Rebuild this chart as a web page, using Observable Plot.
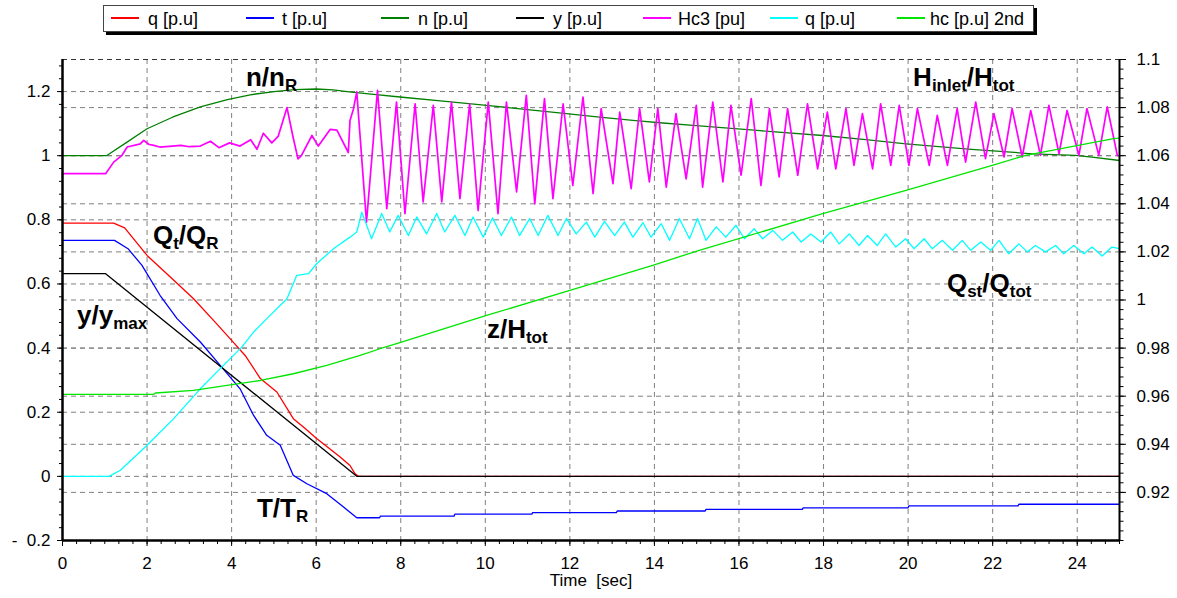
<!DOCTYPE html>
<html><head><meta charset="utf-8">
<script src="https://cdn.jsdelivr.net/npm/d3@7"></script>
<script src="https://cdn.jsdelivr.net/npm/@observablehq/plot@0.6"></script>
<style>
body{margin:0;background:#fff;font-family:"Liberation Sans",Arial,sans-serif;}
#wrap{position:relative;width:1177px;height:598px;overflow:hidden;}
#legend{position:absolute;left:103px;top:5px;width:929px;height:25px;border:1px solid #444;box-shadow:3px 3px 0 #000;background:#fff;}
.li{position:absolute;top:1px;height:25px;font-size:18px;line-height:25px;white-space:pre;color:#000;}
.sw{position:absolute;top:11px;height:1.6px;width:28px;}
#chart{position:absolute;left:0;top:40px;}
#chart svg text{white-space:pre;}
</style></head><body>
<div id="wrap"><div id="legend"></div><div id="chart"></div></div>
<script>
// ---------- data (time [s], value in left-axis units) ----------
const seriesNames  = ["q [p.u]","t [p.u]","n [p.u]","y [p.u]","Hc3 [pu]","q [p.u]","hc [p.u] 2nd"];
const seriesColors = ["#ff0000","#0000ff","#008000","#000000","#ff00ff","#00ffff","#00e600"];

const qTurbine = [[0,0.79],[1.21,0.79],[1.47,0.775],[2.0,0.689],[2.55,0.622],[3.1,0.554],[3.61,0.481],[4.0,0.424],[4.32,0.377],[4.68,0.305],[5.07,0.263],[5.46,0.18],[5.74,0.149],[6.01,0.118],[6.56,0.061],[6.8,0.034],[6.92,0.008],[7.0,0],[25,0]];
const tTorque = [[0,0.736],[1.23,0.736],[1.55,0.71],[1.88,0.658],[2.31,0.564],[2.71,0.492],[3.26,0.419],[3.73,0.346],[4.2,0.273],[4.52,0.19],[4.83,0.128],[5.15,0.097],[5.46,0.003],[5.78,-0.023],[6.25,-0.054],[6.64,-0.095],[6.96,-0.129],[7.5,-0.129],[7.52,-0.124],[9.26,-0.124],[9.28,-0.118],[11.1,-0.118],[11.12,-0.113],[13.1,-0.113],[13.12,-0.108],[15.2,-0.108],[15.22,-0.103],[17.5,-0.103],[17.52,-0.098],[20.0,-0.098],[20.02,-0.092],[22.6,-0.092],[22.62,-0.087],[25,-0.087]];
const nSpeed = [[0,1.0],[1.04,1.0],[1.5,1.04],[2.0,1.084],[2.6,1.12],[3.26,1.152],[3.9,1.175],[4.44,1.19],[5.0,1.2],[5.5,1.206],[6.0,1.208],[6.4,1.205],[6.73,1.2],[7.3,1.192],[7.98,1.183],[9.0,1.17],[10.03,1.157],[11.0,1.144],[11.92,1.131],[12.7,1.12],[13.49,1.11],[14.2,1.102],[14.99,1.094],[16.5,1.078],[17.98,1.063],[19.0,1.05],[19.95,1.037],[21.5,1.02],[22.94,1.006],[23.96,1.001],[24.4,0.995],[25,0.985]];
const yGate = [[0,0.632],[1.02,0.632],[6.96,0],[25,0]];
const hc3Inlet = [[0,0.944],[1.02,0.944],[1.21,0.98],[1.4,1.0],[1.53,1.027],[1.84,1.037],[1.92,1.048],[2.05,1.035],[2.16,1.032],[2.3,1.027],[2.6,1.03],[2.8,1.032],[3.0,1.028],[3.26,1.03],[3.5,1.045],[3.7,1.025],[3.95,1.04],[4.2,1.03],[4.45,1.05],[4.6,1.02],[4.75,1.07],[4.95,1.04],[5.1,1.06],[5.31,1.15],[5.45,1.06],[5.57,0.99],[5.65,1.0],[5.9,1.063],[6.05,1.03],[6.33,1.082],[6.49,1.08],[6.76,1.01],[6.8,1.11],[6.88,1.145],[6.96,1.199],[7.19,0.793],[7.45,1.204],[7.67,0.835],[7.9,1.167],[8.1,0.819],[8.34,1.162],[8.53,0.856],[8.77,1.157],[8.97,0.856],[9.2,1.167],[9.4,0.866],[9.63,1.162],[9.83,0.829],[10.07,1.167],[10.3,0.819],[10.5,1.167],[10.74,0.887],[10.97,1.188],[11.17,0.85],[11.4,1.178],[11.6,0.866],[11.84,1.162],[12.07,0.907],[12.31,1.183],[12.55,0.882],[12.74,1.147],[13.02,0.913],[13.18,1.136],[13.45,0.897],[13.65,1.147],[13.88,0.918],[14.08,1.147],[14.28,0.902],[14.51,1.131],[14.75,0.928],[14.99,1.157],[15.14,0.902],[15.38,1.167],[15.62,0.918],[15.81,1.157],[16.05,0.939],[16.29,1.178],[16.52,0.907],[16.72,1.147],[16.95,0.934],[17.15,1.147],[17.39,0.939],[17.62,1.162],[17.86,0.959],[18.09,1.136],[18.29,0.959],[18.53,1.147],[18.72,0.97],[18.92,1.131],[19.16,0.959],[19.35,1.162],[19.59,0.97],[19.79,1.157],[20.02,0.97],[20.22,1.147],[20.5,0.97],[20.69,1.126],[20.93,0.97],[21.16,1.147],[21.36,0.98],[21.6,1.167],[21.83,0.991],[22.03,1.131],[22.27,0.996],[22.46,1.147],[22.7,0.996],[22.9,1.141],[23.13,1.001],[23.33,1.157],[23.57,1.006],[23.76,1.141],[24.04,1.001],[24.23,1.147],[24.51,1.001],[24.71,1.152],[24.95,1.0]];
const qSpiral = [[0,0],[1.1,0],[1.37,0.019],[2.0,0.097],[2.63,0.18],[3.26,0.273],[3.73,0.336],[4.24,0.403],[4.52,0.45],[4.91,0.502],[5.31,0.554],[5.54,0.627],[5.82,0.632],[6.01,0.663],[6.41,0.71],[6.8,0.746],[6.96,0.762],[7.08,0.824],[7.31,0.741],[7.55,0.82],[7.74,0.762],[7.94,0.814],[8.18,0.751],[8.38,0.809],[8.61,0.756],[8.85,0.82],[9.04,0.762],[9.28,0.814],[9.52,0.751],[9.71,0.809],[9.95,0.746],[10.17,0.806],[10.38,0.751],[10.62,0.809],[10.81,0.751],[11.05,0.804],[11.25,0.751],[11.48,0.814],[11.72,0.751],[11.92,0.804],[12.15,0.756],[12.39,0.793],[12.59,0.746],[12.82,0.795],[13.06,0.751],[13.29,0.793],[13.49,0.746],[13.73,0.791],[13.92,0.746],[14.16,0.788],[14.36,0.736],[14.59,0.804],[14.83,0.741],[15.02,0.804],[15.22,0.736],[15.46,0.778],[15.69,0.746],[15.93,0.783],[16.13,0.741],[16.36,0.772],[16.56,0.741],[16.8,0.767],[17.03,0.736],[17.27,0.762],[17.47,0.731],[17.7,0.756],[17.94,0.731],[18.17,0.762],[18.37,0.725],[18.61,0.756],[18.84,0.72],[19.04,0.751],[19.27,0.72],[19.47,0.756],[19.71,0.715],[19.94,0.741],[20.14,0.71],[20.38,0.741],[20.57,0.71],[20.81,0.736],[21.05,0.705],[21.28,0.736],[21.48,0.705],[21.72,0.731],[21.95,0.705],[22.15,0.736],[22.38,0.694],[22.62,0.725],[22.82,0.7],[23.01,0.72],[23.25,0.7],[23.49,0.72],[23.68,0.694],[23.92,0.72],[24.16,0.694],[24.35,0.715],[24.59,0.687],[24.82,0.715],[25,0.71]];
const hcLevel = [[0,0.256],[2.16,0.256],[2.2,0.26],[3.1,0.268],[3.89,0.284],[4.68,0.299],[5.46,0.32],[6.25,0.346],[7.04,0.377],[7.51,0.398],[7.98,0.417],[10.03,0.502],[12.0,0.58],[13.96,0.658],[15.06,0.705],[17.98,0.819],[19.95,0.892],[21.99,0.97],[22.78,1.001],[24.86,1.053],[25,1.055]];
const allSeries = [qTurbine, tTorque, nSpeed, yGate, hc3Inlet, qSpiral, hcLevel];

const xTicks = [0,2,4,6,8,10,12,14,16,18,20,22,24];
const leftTicks  = [-0.2,0,0.2,0.4,0.6,0.8,1,1.2];
const leftLabels = ["-  0.2","0","0.2","0.4","0.6","0.8","1","1.2"];
const rightTicks  = [0.92,0.94,0.96,0.98,1,1.02,1.04,1.06,1.08,1.1];
const rightLabels = ["0.92","0.94","0.96","0.98","1","1.02","1.04","1.06","1.08","1.1"];
const xLabel = "Time  [sec]";

// annotations: text parts [string, isSubscript], anchored at (t, value) = left end of baseline
const annotations = [
  {t:4.35,  v:1.216, parts:[["n/n",0],["R",1]]},
  {t:20.13, v:1.216, parts:[["H",0],["inlet",1],["/H",0],["tot",1]]},
  {t:2.15,  v:0.723, parts:[["Q",0],["t",1],["/Q",0],["R",1]]},
  {t:0.355, v:0.474, parts:[["y/y",0],["max",1]]},
  {t:10.05, v:0.43,  parts:[["z/H",0],["tot",1]]},
  {t:20.93, v:0.574, parts:[["Q",0],["st",1],["/Q",0],["tot",1]]},
  {t:4.61,  v:-0.128,parts:[["T/T",0],["R",1]]}
];

// ---------- helpers ----------
const toLeft = r => -0.2 + (r - 0.9) / 0.2 * 1.5;
const near = (a, b) => Math.abs(a - b) < 1e-6;
const fmtLeft = d => { const i = leftTicks.findIndex(v => near(v, d)); return i >= 0 ? leftLabels[i] : ""; };
const fmtRight = d => { const i = rightTicks.findIndex(v => near(toLeft(v), d)); return i >= 0 ? rightLabels[i] : ""; };
const xMinor = d3.range(0, 76).map(i => i / 3).filter(v => v <= 25);
const leftMinor = d3.range(0, 38).map(i => -0.2 + i * 0.04);
const rightMinor = d3.range(0, 51).map(i => toLeft(0.9 + i * 0.004));
const gridY = [0,0.2,0.4,0.6,0.8,1,1.2].concat([0.92,0.94,0.96,0.98,1,1.02,1.04,1.06,1.08].map(toLeft));

// ---------- legend ----------
const legendLine = [111,246,381,516,643,770,897];
const legendText = [148,282,418,553,678,805,930];
const leg = document.getElementById("legend");
seriesNames.forEach((name, i) => {
  const sw = document.createElement("div");
  sw.className = "sw"; sw.style.left = (legendLine[i] - 104) + "px"; sw.style.background = seriesColors[i];
  leg.appendChild(sw);
  const tx = document.createElement("div");
  tx.className = "li"; tx.style.left = (legendText[i] - 104) + "px"; tx.textContent = name;
  leg.appendChild(tx);
});

// ---------- plot ----------
const grid = {stroke:"#808080", strokeDasharray:"5,4", strokeWidth:1};
const plot = Plot.plot({
  width: 1177, height: 558,
  marginLeft: 62, marginRight: 58, marginTop: 19, marginBottom: 58,
  x: {domain:[0,25], axis:null},
  y: {domain:[-0.2,1.3], axis:null},
  style: {fontFamily:'"Liberation Sans", Arial, sans-serif', fontSize:"17px", color:"#000", background:"#fff", overflow:"visible"},
  marks: [
    Plot.ruleX(xTicks.slice(1), grid),
    Plot.ruleY(gridY, grid),
    Plot.ruleY([1.3], {stroke:"#333", strokeDasharray:"5,4"}),
    ...allSeries.map((s, i) => Plot.line(s, {x: d => d[0], y: d => d[1], stroke: seriesColors[i], strokeWidth: i === 4 ? 1.7 : 1.3})),
    Plot.ruleX([0], {stroke:"#000", strokeWidth:2.5}),
    Plot.ruleX([25], {stroke:"#000", strokeWidth:2}),
    Plot.ruleY([-0.2], {stroke:"#000", strokeWidth:2.5}),
    Plot.axisX({ticks: xTicks, tickSize:6, tickPadding:10, tickFormat: d => String(d), label:null, fontSize:17}),
    Plot.axisX({ticks: xMinor, tickSize:4, tickFormat: () => "", label:null}),
    Plot.axisY({ticks: leftTicks, anchor:"left", tickSize:5, tickPadding:7, tickFormat: fmtLeft, label:null, fontSize:17}),
    Plot.axisY({ticks: leftMinor, anchor:"left", tickSize:3, tickFormat: () => "", label:null}),
    Plot.axisY({ticks: rightTicks.map(toLeft), anchor:"right", tickSize:6, tickPadding:11, tickFormat: fmtRight, label:null, fontSize:17}),
    Plot.axisY({ticks: rightMinor, anchor:"right", tickSize:3.5, tickFormat: () => "", label:null}),
    Plot.text([xLabel], {frameAnchor:"bottom", dy:45, fontSize:17})
  ]
});
document.getElementById("chart").appendChild(plot);

// annotations with subscripts, positioned through the plot scales
const sx = plot.scale("x"), sy = plot.scale("y");
const svg = d3.select(plot);
annotations.forEach(a => {
  const t = svg.append("text")
    .attr("x", sx.apply(a.t)).attr("y", sy.apply(a.v))
    .attr("text-anchor", "start")
    .attr("font-size", 26).attr("font-weight", "bold").attr("fill", "#000")
    .attr("font-family", '"Liberation Sans", Arial, sans-serif');
  let sub = 0;
  a.parts.forEach(([s, isSub]) => {
    const ts = t.append("tspan").text(s);
    if (isSub && !sub) { ts.attr("dy", 5); sub = 1; }
    else if (!isSub && sub) { ts.attr("dy", -5); sub = 0; }
    if (isSub) ts.attr("font-size", 17);
  });
});
</script></body></html>
